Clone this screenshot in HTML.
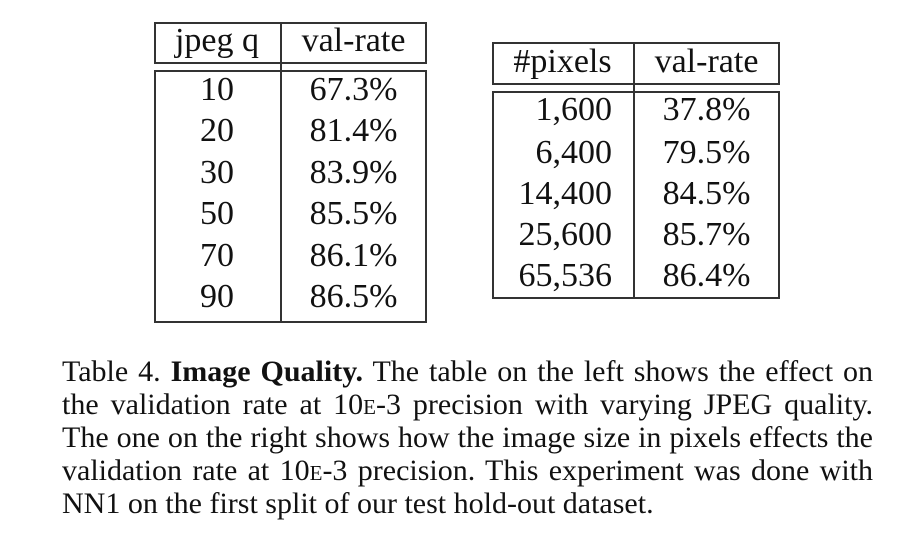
<!DOCTYPE html>
<html><head><style>
body{margin:0;width:898px;height:550px;background:#fff;font-family:"Liberation Serif",serif;color:#111;position:relative;overflow:hidden}
.l{position:absolute;background:#333}
.t{position:absolute;font-size:34px;line-height:40px;height:40px;white-space:nowrap}
.c{text-align:center}.r{text-align:right}
.cl{position:absolute;left:62px;width:811px;font-size:30px;line-height:33px;height:33px;text-align:justify;text-align-last:justify;white-space:nowrap}
.sc{font-variant:small-caps}
</style></head><body>
<div class="l" style="left:154px;top:22px;width:273px;height:1.5px"></div>
<div class="l" style="left:154px;top:62px;width:273px;height:1.5px"></div>
<div class="l" style="left:154px;top:70px;width:273px;height:1.5px"></div>
<div class="l" style="left:154px;top:321px;width:273px;height:1.5px"></div>
<div class="l" style="left:154px;top:22px;width:1.5px;height:41px"></div>
<div class="l" style="left:154px;top:70px;width:1.5px;height:252px"></div>
<div class="l" style="left:280px;top:22px;width:1.5px;height:300px"></div>
<div class="l" style="left:425px;top:22px;width:1.5px;height:41px"></div>
<div class="l" style="left:425px;top:70px;width:1.5px;height:252px"></div>
<div class="t c" style="left:154px;width:126px;top:21px">jpeg q</div>
<div class="t c" style="left:281px;width:145px;top:21px">val-rate</div>
<div class="t c" style="left:154px;width:126px;top:70px">10</div>
<div class="t c" style="left:154px;width:126px;top:111px">20</div>
<div class="t c" style="left:154px;width:126px;top:153px">30</div>
<div class="t c" style="left:154px;width:126px;top:194px">50</div>
<div class="t c" style="left:154px;width:126px;top:236px">70</div>
<div class="t c" style="left:154px;width:126px;top:277px">90</div>
<div class="t c" style="left:281px;width:145px;top:70px">67.3%</div>
<div class="t c" style="left:281px;width:145px;top:111px">81.4%</div>
<div class="t c" style="left:281px;width:145px;top:153px">83.9%</div>
<div class="t c" style="left:281px;width:145px;top:194px">85.5%</div>
<div class="t c" style="left:281px;width:145px;top:236px">86.1%</div>
<div class="t c" style="left:281px;width:145px;top:277px">86.5%</div>
<div class="l" style="left:492px;top:42px;width:288px;height:1.5px"></div>
<div class="l" style="left:492px;top:83px;width:288px;height:1.5px"></div>
<div class="l" style="left:492px;top:91px;width:288px;height:1.5px"></div>
<div class="l" style="left:492px;top:297px;width:288px;height:1.5px"></div>
<div class="l" style="left:492px;top:42px;width:1.5px;height:42px"></div>
<div class="l" style="left:492px;top:91px;width:1.5px;height:207px"></div>
<div class="l" style="left:633px;top:42px;width:1.5px;height:256px"></div>
<div class="l" style="left:778px;top:42px;width:1.5px;height:42px"></div>
<div class="l" style="left:778px;top:91px;width:1.5px;height:207px"></div>
<div class="t c" style="left:492px;width:141px;top:42px">#pixels</div>
<div class="t c" style="left:634px;width:145px;top:42px">val-rate</div>
<div class="t r" style="left:492px;width:120px;top:90px">1,600</div>
<div class="t r" style="left:492px;width:120px;top:133px">6,400</div>
<div class="t r" style="left:492px;width:120px;top:174px">14,400</div>
<div class="t r" style="left:492px;width:120px;top:215px">25,600</div>
<div class="t r" style="left:492px;width:120px;top:256px">65,536</div>
<div class="t c" style="left:634px;width:145px;top:90px">37.8%</div>
<div class="t c" style="left:634px;width:145px;top:133px">79.5%</div>
<div class="t c" style="left:634px;width:145px;top:174px">84.5%</div>
<div class="t c" style="left:634px;width:145px;top:215px">85.7%</div>
<div class="t c" style="left:634px;width:145px;top:256px">86.4%</div>
<div class="cl" style="top:355px">Table 4. <b>Image Quality.</b> The table on the left shows the effect on</div>
<div class="cl" style="top:388px">the validation rate at 10<span class="sc">e</span>-3 precision with varying JPEG quality.</div>
<div class="cl" style="top:421px">The one on the right shows how the image size in pixels effects the</div>
<div class="cl" style="top:454px">validation rate at 10<span class="sc">e</span>-3 precision. This experiment was done with</div>
<div class="cl" style="top:487px;text-align-last:left">NN1 on the first split of our test hold-out dataset.</div>
</body></html>
